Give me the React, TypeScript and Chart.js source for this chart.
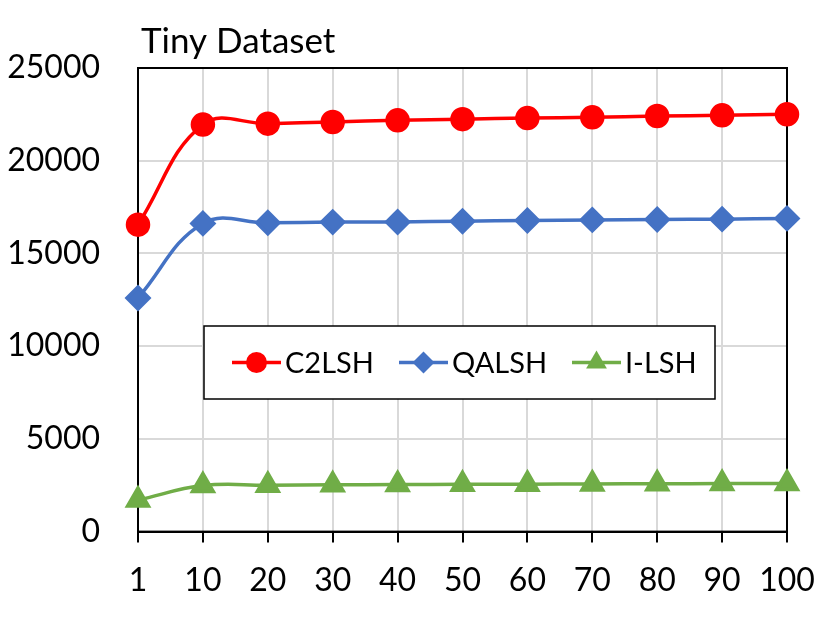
import { useEffect, useRef } from 'react';
import { Chart, registerables } from 'chart.js';
import { drawPoint } from 'chart.js/helpers';

Chart.register(...registerables);

const FONT = 'Lato, "Liberation Sans", sans-serif';

const labels = ['1', '10', '20', '30', '40', '50', '60', '70', '80', '90', '100'];
const c2lsh = [16550, 21950, 22000, 22090, 22180, 22240, 22300, 22340, 22410, 22450, 22500];
const qalsh = [12600, 16620, 16650, 16690, 16700, 16740, 16780, 16810, 16830, 16850, 16890];
const ilsh = [1700, 2480, 2500, 2520, 2540, 2550, 2560, 2570, 2580, 2590, 2600];
const yTicks = [0, 5000, 10000, 15000, 20000, 25000];

// frame round the plot, under the lines
const framePlugin = {
  id: 'frame',
  beforeDatasetsDraw(chart: any) {
    const { ctx, chartArea: a } = chart;
    ctx.save();
    ctx.strokeStyle = '#000';
    ctx.lineWidth = 2;
    ctx.strokeRect(a.left, a.top, a.right - a.left, a.bottom - a.top);
    ctx.restore();
  },
  afterDraw(chart: any) {
    const { ctx, chartArea: a } = chart;
    ctx.save();
    ctx.fillStyle = '#000';
    ctx.font = `35px ${FONT}`;
    ctx.textBaseline = 'alphabetic';
    ctx.fillText('Tiny Dataset', a.left + 3, a.top - 15);
    ctx.restore();
  }
};

// boxed legend sitting inside the plot
const boxLegendPlugin = {
  id: 'boxLegend',
  afterDatasetsDraw(chart: any) {
    const { ctx, chartArea: a } = chart;
    const x0 = a.left + 66;
    const y0 = a.top + 258;
    const w = 511;
    const h = 73;
    const cy = y0 + h / 2;
    ctx.save();
    ctx.fillStyle = '#fff';
    ctx.fillRect(x0, y0, w, h);
    ctx.strokeStyle = '#000';
    ctx.lineWidth = 1.5;
    ctx.strokeRect(x0, y0, w, h);
    const starts = [28, 195, 368];
    chart.data.datasets.forEach((ds: any, i: number) => {
      const lx = x0 + starts[i];
      ctx.strokeStyle = ds.borderColor;
      ctx.lineWidth = ds.borderWidth;
      ctx.beginPath();
      ctx.moveTo(lx, cy);
      ctx.lineTo(lx + 49, cy);
      ctx.stroke();
      ctx.fillStyle = ds.pointBackgroundColor;
      ctx.strokeStyle = ds.pointBackgroundColor;
      drawPoint(ctx, { pointStyle: ds.pointStyle, radius: ds.pointRadius, borderWidth: 0, rotation: 0 }, lx + 24.5, cy);
      ctx.fillStyle = '#000';
      ctx.font = `29px ${FONT}`;
      ctx.textBaseline = 'middle';
      ctx.fillText(ds.label, lx + 53, cy + 1);
    });
    ctx.restore();
  }
};

export default function App() {
  const canvasRef = useRef<HTMLCanvasElement>(null);

  useEffect(() => {
    if (!canvasRef.current) return;
    const chart = new Chart(canvasRef.current, {
      type: 'line',
      data: {
        labels,
        datasets: [
          {
            label: 'C2LSH',
            data: c2lsh,
            borderColor: '#FF0000',
            backgroundColor: '#FF0000',
            pointBackgroundColor: '#FF0000',
            pointBorderColor: '#FF0000',
            borderWidth: 3.5,
            pointStyle: 'circle',
            pointRadius: 10.5,
            tension: 0.4,
            clip: false
          },
          {
            label: 'QALSH',
            data: qalsh,
            borderColor: '#4472C4',
            backgroundColor: '#4472C4',
            pointBackgroundColor: '#4472C4',
            pointBorderColor: '#4472C4',
            borderWidth: 3.5,
            pointStyle: 'rectRot',
            pointRadius: 11,
            tension: 0.4,
            clip: false
          },
          {
            label: 'I-LSH',
            data: ilsh,
            borderColor: '#70AD47',
            backgroundColor: '#70AD47',
            pointBackgroundColor: '#70AD47',
            pointBorderColor: '#70AD47',
            borderWidth: 3.5,
            pointStyle: 'triangle',
            pointRadius: 12,
            tension: 0.4,
            clip: false
          }
        ]
      } as any,
      options: {
        responsive: false,
        animation: false,
        layout: { padding: { top: 68, right: 44, bottom: 12, left: 0 } },
        plugins: {
          legend: { display: false },
          title: { display: false },
          tooltip: { enabled: false }
        },
        scales: {
          x: {
            type: 'category',
            offset: false,
            afterFit: (scale: any) => {
              scale.paddingLeft = 0;
              scale.paddingRight = 0;
            },
            grid: { color: '#D9D9D9', lineWidth: 2, tickColor: '#000', tickLength: 11, drawOnChartArea: true },
            border: { color: '#000', width: 2 },
            ticks: { color: '#000', font: { family: FONT, size: 32 }, padding: 19, maxRotation: 0, autoSkip: false }
          },
          y: {
            min: 0,
            max: 25000,
            afterBuildTicks: (scale: any) => {
              scale.ticks = yTicks.map((v) => ({ value: v }));
            },
            afterFit: (scale: any) => {
              scale.width = 138;
            },
            grid: { color: '#D9D9D9', lineWidth: 2, drawTicks: false },
            border: { color: '#000', width: 2 },
            ticks: {
              color: '#000',
              font: { family: FONT, size: 32 },
              padding: 38,
              callback: (v: any) => String(v)
            }
          }
        }
      },
      plugins: [framePlugin, boxLegendPlugin]
    });
    return () => chart.destroy();
  }, []);

  return (
    <div style={{ position: 'absolute', left: 0, top: 0, width: 831, height: 631, background: '#fff' }}>
      <canvas ref={canvasRef} width={831} height={631} />
    </div>
  );
}
